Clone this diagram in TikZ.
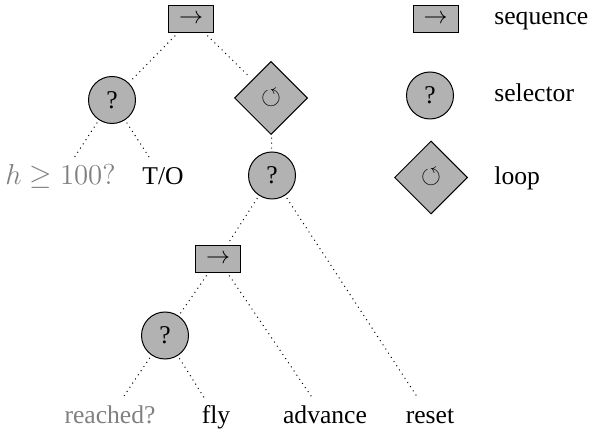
\documentclass[tikz,border=0pt]{standalone}
\usepackage{amssymb}
\usepackage[no-math]{fontspec}
\setmainfont{Liberation Serif}
\usetikzlibrary{shapes.geometric}
\begin{document}
\begin{tikzpicture}[x=0.5pt,y=-0.5pt,
  font=\fontsize{12.8pt}{15pt}\selectfont,
  seqbox/.style={draw, fill=black!30, line width=0.5pt, minimum width=22.5pt, minimum height=13.5pt, inner sep=0pt},
  selnode/.style={draw, circle, fill=black!30, line width=0.5pt, minimum size=23.5pt, inner sep=0pt},
  loopnode/.style={draw, diamond, fill=black!30, line width=0.5pt, minimum size=36.5pt, inner sep=0pt},
  leaf/.style={text height=9pt, text depth=2.5pt, inner sep=2pt},
  cond/.style={leaf, text=black!50},
  link/.style={dotted, line width=0.5pt, shorten <=1.5pt, shorten >=1.5pt},
  legtext/.style={anchor=base west, inner sep=0pt}]
\useasboundingbox (0,0) rectangle (592,431);

% behaviour tree
\node[seqbox]   (root)    at (191,19.5)  {$\rightarrow$};
\node[selnode]  (sA)      at (112,100)   {?};
\node[loopnode] (lp)      at (271,98)    {$\circlearrowleft$};
\node[cond, font=\fontsize{15pt}{18pt}\selectfont]
                (hcond)   at (60.5,178.5) {$h \geq 100?$};
\node[leaf]     (to)      at (163,178.5) {T/O};
\node[selnode]  (sB)      at (272,175.5) {?};
\node[seqbox]   (sq)      at (218,259)   {$\rightarrow$};
\node[selnode]  (sC)      at (165,335.5) {?};
\node[cond]     (reached) at (110,416.5) {reached?};
\node[leaf]     (fly)     at (216,416.5) {fly};
\node[leaf]     (adv)     at (325,416.5) {advance};
\node[leaf]     (reset)   at (430,416.5) {reset};

\draw[link] (root) -- (sA);
\draw[link] (root) -- (lp);
\draw[link] (sA) -- (hcond);
\draw[link] (sA) -- (to);
\draw[link] (lp) -- (sB);
\draw[link] (sB) -- (sq);
\draw[link] (sB) -- (reset);
\draw[link] (sq) -- (sC);
\draw[link] (sq) -- (adv);
\draw[link] (sC) -- (reached);
\draw[link] (sC) -- (fly);

% key
\node[seqbox]   (kseq)  at (435.5,19.5) {$\rightarrow$};
\node[selnode]  (ksel)  at (430,95.5)   {?};
\node[loopnode] (kloop) at (431,177.5)  {$\circlearrowleft$};
\node[legtext]  (tseq)  at (494,25)  {sequence};
\node[legtext]  (tsel)  at (494,102) {selector};
\node[legtext]  (tloop) at (494,185) {loop};
\end{tikzpicture}
\end{document}
